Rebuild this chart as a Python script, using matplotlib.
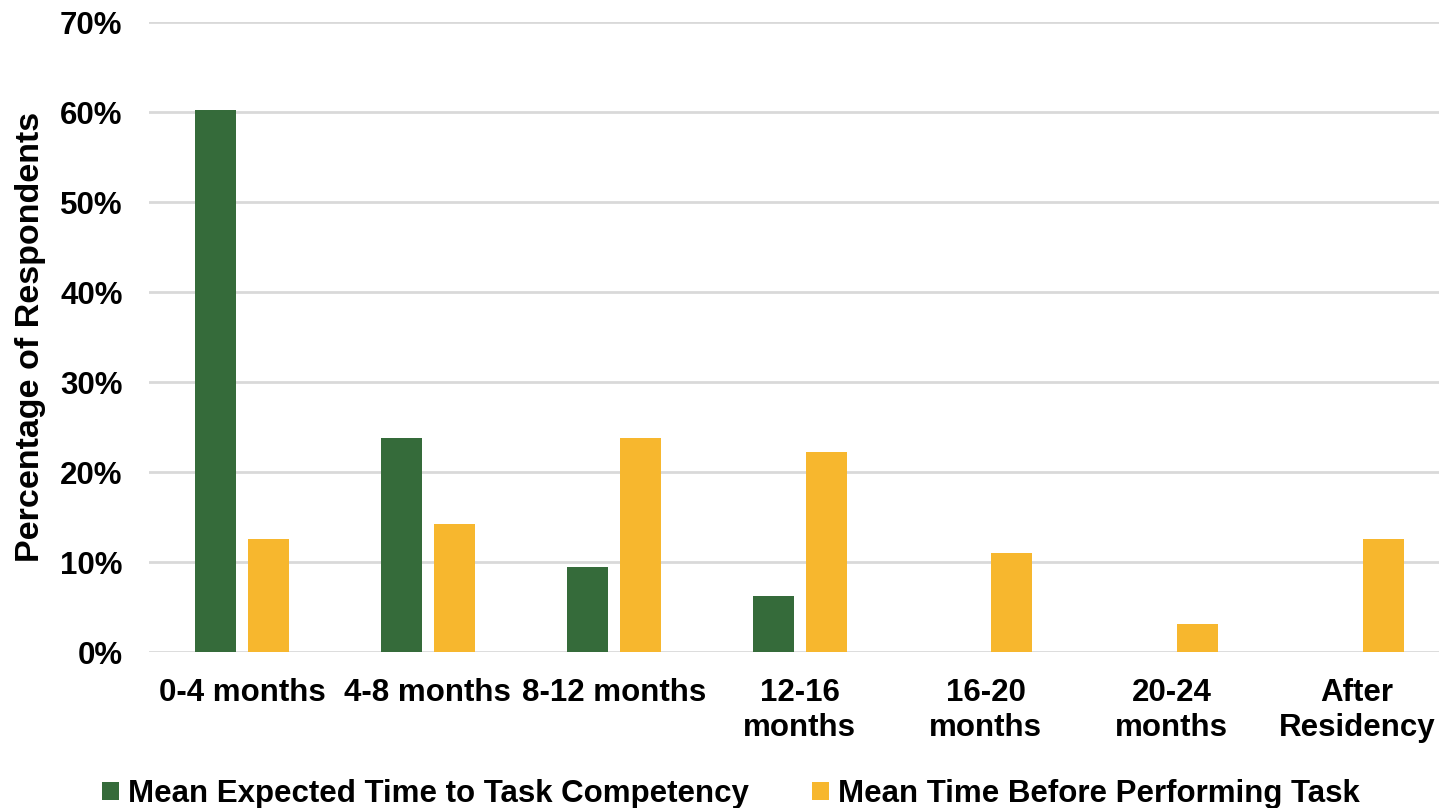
import matplotlib.pyplot as plt
import numpy as np

plt.rcParams['font.family'] = ['Liberation Sans', 'DejaVu Sans']
plt.rcParams['font.weight'] = 'bold'

categories = ['0-4 months', '4-8 months', '8-12 months', '12-16\nmonths',
              '16-20\nmonths', '20-24\nmonths', 'After\nResidency']
competency = [60.2, 23.8, 9.4, 6.2, 0, 0, 0]
before_task = [12.6, 14.2, 23.8, 22.2, 11.0, 3.1, 12.6]
series_names = ['Mean Expected Time to Task Competency',
                'Mean Time Before Performing Task']
green = '#356B3A'
yellow = '#F7B72E'

fig = plt.figure(figsize=(14.39, 8.08), dpi=100)
ax = fig.add_axes([149 / 1439, 156 / 808, 1290 / 1439, 630 / 808])

x = np.arange(len(categories))
w = 0.22
off = 0.1425
ax.bar(x - off, competency, w, color=green, label=series_names[0], zorder=3)
ax.bar(x + off, before_task, w, color=yellow, label=series_names[1], zorder=3)

ax.set_xlim(-0.5, 6.44)
ax.set_ylim(0, 70)
ax.set_yticks(range(0, 71, 10))
ax.set_yticklabels([f'{v}%' for v in range(0, 71, 10)], fontsize=22.5)
ax.set_xticks(x)
ax.set_xticklabels(categories, fontsize=22.5, linespacing=1.2)
ax.tick_params(axis='both', length=0)
ax.tick_params(axis='x', pad=19)
ax.tick_params(axis='y', pad=19)
ax.grid(axis='y', color='#D9D9D9', linewidth=2, zorder=0)
for s in ax.spines.values():
    s.set_visible(False)
ax.set_ylabel('Percentage of Respondents', fontsize=24.5, fontweight='bold',
              labelpad=10)

fig.legend(loc='center', bbox_to_anchor=(0.508, 1 - 794 / 808), ncol=2,
           frameon=False, fontsize=22.5, handlelength=0.55, handleheight=0.55,
           handletextpad=0.3, columnspacing=2.0)

fig.savefig('out.png', dpi=100)
